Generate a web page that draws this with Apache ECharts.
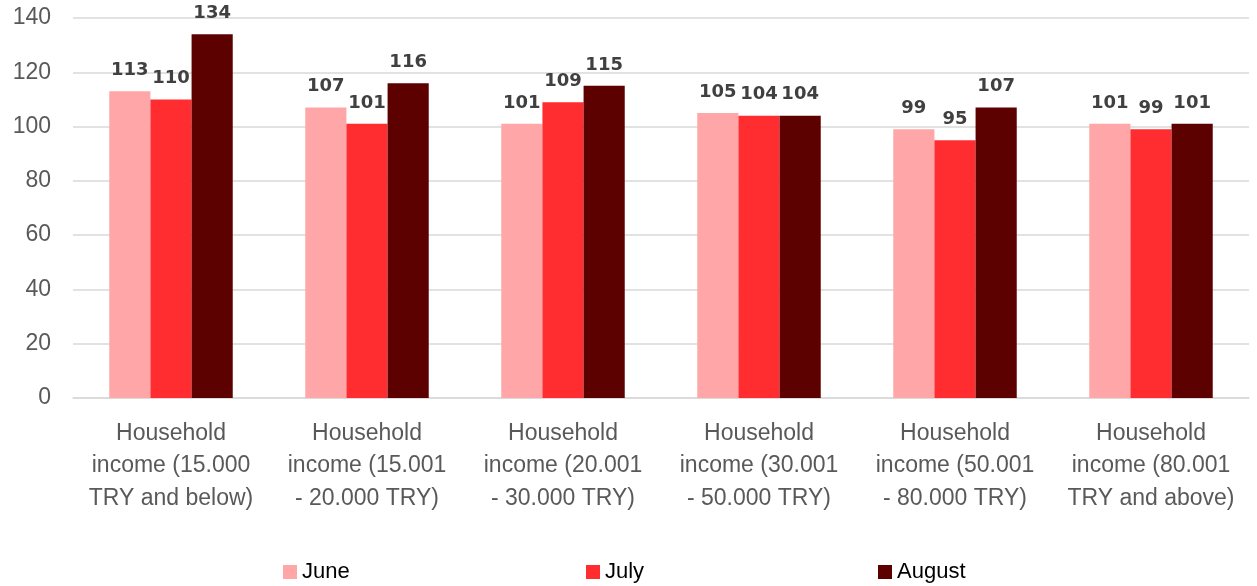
<!DOCTYPE html>
<html lang="en">
<head>
    <meta charset="UTF-8">
    <title>Household income chart</title>
    <script src="https://cdn.jsdelivr.net/npm/echarts@6/dist/echarts.min.js"></script>
    <style>
        body{
            margin: 0;
            background: #fff;
        }
        #chart{
            width: 1257px;
            height: 586px;
        }
    </style>
</head>
<body>
    <div id="chart"></div>
    <script>
        var categories = [
            'Household\nincome (15.000\nTRY and below)',
            'Household\nincome (15.001\n- 20.000 TRY)',
            'Household\nincome (20.001\n- 30.000 TRY)',
            'Household\nincome (30.001\n- 50.000 TRY)',
            'Household\nincome (50.001\n- 80.000 TRY)',
            'Household\nincome (80.001\nTRY and above)'
        ];
        var june = [113, 107, 101, 105, 99, 101];
        var july = [110, 101, 109, 104, 95, 99];
        var august = [134, 116, 115, 104, 107, 101];
        var seriesNames = ['June', 'July', 'August'];
        var colors = ['#ffa7a8', '#ff2d2f', '#5c0000'];

        var labelStyle = {
            show: true,
            position: 'top',
            distance: 12,
            color: '#404040',
            fontFamily: 'DejaVu Sans',
            fontWeight: 'bold',
            fontSize: 18
        };

        // one legend per series so each item can sit where the original has it
        var legendLeft = [278, 581, 873];
        var legends = seriesNames.map(function (n, i) {
            return {
                data: [n],
                left: legendLeft[i],
                top: 556,
                itemWidth: 14,
                itemHeight: 14,
                icon: 'rect',
                textStyle: {
                    fontFamily: 'Liberation Sans',
                    fontSize: 22,
                    color: '#000'
                }
            };
        });

        var myChart = echarts.init(document.getElementById('chart'));
        var option = {
            animation: false,
            color: colors,
            grid: {
                left: 73,
                right: 8,
                top: 18,
                bottom: 188
            },
            legend: legends,
            xAxis: {
                type: 'category',
                data: categories,
                axisLine: { lineStyle: { color: '#d9d9d9', width: 1.5 } },
                axisTick: { show: false },
                axisLabel: {
                    color: '#595959',
                    fontFamily: 'Liberation Sans',
                    fontSize: 23,
                    lineHeight: 32.5,
                    margin: 19,
                    interval: 0
                }
            },
            yAxis: {
                type: 'value',
                min: 0,
                max: 140,
                interval: 20,
                axisLine: { show: false },
                axisTick: { show: false },
                splitLine: { lineStyle: { color: '#d9d9d9', width: 1.5 } },
                axisLabel: {
                    color: '#595959',
                    fontFamily: 'Liberation Sans',
                    fontSize: 23,
                    margin: 22
                }
            },
            series: [
                { name: 'June', type: 'bar', data: june, barGap: '0%', barCategoryGap: '37%', label: labelStyle },
                { name: 'July', type: 'bar', data: july, barGap: '0%', barCategoryGap: '37%', label: labelStyle },
                { name: 'August', type: 'bar', data: august, barGap: '0%', barCategoryGap: '37%', label: labelStyle }
            ]
        };
        myChart.setOption(option);
    </script>
</body>
</html>
